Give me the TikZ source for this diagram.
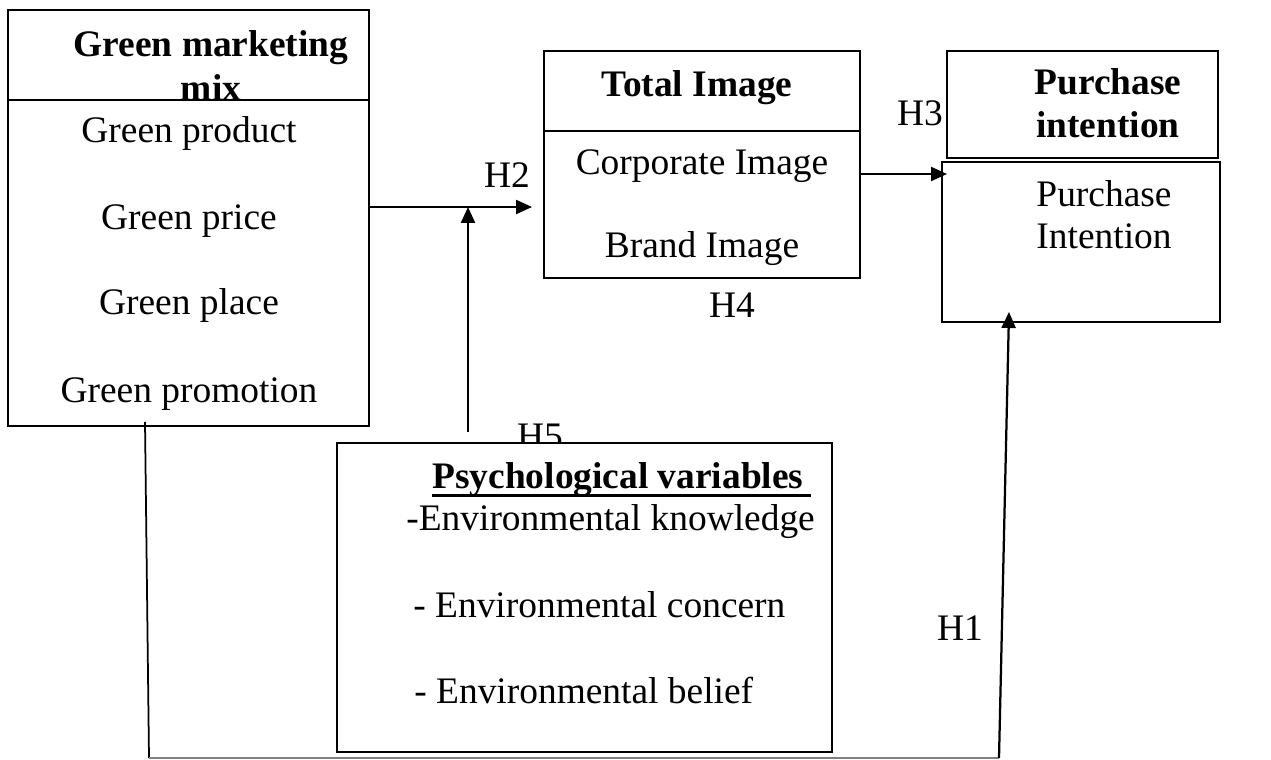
\documentclass[tikz,border=0pt]{standalone}
\usepackage{fontspec}
\setmainfont{Liberation Serif}
\usetikzlibrary{arrows.meta}
\begin{document}
\begin{tikzpicture}[x=0.02cm,y=-0.02cm,>={Triangle[length=0.32cm,width=0.28cm]},
  every node/.style={font=\fontsize{21.3}{25}\selectfont},
  box/.style={draw,line width=0.04cm,fill=white,anchor=north west,inner sep=0pt,outer sep=0pt},
  txt/.style={anchor=base,inner sep=0pt},
  bold/.style={txt,font=\fontsize{21.3}{25}\selectfont\bfseries},
  link/.style={->,line width=0.045cm}]
\useasboundingbox (0,0) rectangle (1271,760);

\node[box,minimum width=7.22cm,minimum height=1.8cm] (gtop) at (8,10) {};
\node[bold] (gtitle) at (211,57) {Green marketing};
\node[bold] (gmix) at (211,101) {mix};
\node[box,minimum width=7.22cm,minimum height=6.52cm] (glow) at (8,100) {};
\node[txt] (gprod) at (189,143) {Green product};
\node[txt] (gprice) at (189,230) {Green price};
\node[txt] (gplace) at (189,315) {Green place};
\node[txt] (gpromo) at (189,402) {Green promotion};

\node[box,minimum width=6.32cm,minimum height=1.6cm] (ttop) at (544,51) {};
\node[bold] (ttitle) at (697,97) {Total Image};
\node[box,minimum width=6.32cm,minimum height=2.94cm] (tlow) at (544,131) {};
\node[txt] (tcorp) at (702,175) {Corporate Image};
\node[txt] (tbrand) at (702,257) {Brand Image};

\node[box,minimum width=5.42cm,minimum height=2.14cm] (ptop) at (947,51) {};
\node[bold] (ptitle) at (1108,95) {Purchase};
\node[bold] (ptitleb) at (1108,138) {intention};
\node[box,minimum width=5.56cm,minimum height=3.2cm] (plow) at (942,162) {};
\node[txt] (ppur) at (1104,207) {Purchase};
\node[txt] (pint) at (1104,249) {Intention};

\node[txt] (lblh5) at (540,448) {H5};
\node[box,minimum width=9.9cm,minimum height=6.18cm] (psy) at (337,443) {};
\node[bold,anchor=base west] (psytitle) at (432,488) {Psychological variables};
\draw[line width=0.06cm] ([yshift=-0.14cm]psytitle.base west) -- ++(379,0);
\node[txt,anchor=base west] (psyknow) at (406,530) {-Environmental knowledge};
\node[txt,anchor=base west] (psyconc) at (413,617) {- Environmental concern};
\node[txt,anchor=base west] (psybel) at (414,703) {- Environmental belief};

\node[txt] (lblh2) at (507,188) {H2};
\node[txt] (lblh3) at (920,126) {H3};
\node[txt] (lblh4) at (732,317) {H4};
\node[txt] (lblh1) at (960,640) {H1};

\coordinate (h2end) at (532,207);
\coordinate (h5foot) at (468,432);
\coordinate (h3y) at (0,174);
\coordinate (h1turn) at (149,758);
\coordinate (h1corner) at (999,758);

\draw[link] (glow.east |- h2end) -- (h2end);
\draw[link] (h5foot) -- (h5foot |- h2end);
\draw[link] (tlow.east |- h3y) -- (ptop.west |- h3y);
\draw[line width=0.035cm] ([shift={(137,-4)}]glow.south west) -- (h1turn);
\draw[gray,line width=0.03cm] (h1turn) -- (h1corner);
\draw[link] (h1corner) -- ([shift={(67,-10)}]plow.south west);
\end{tikzpicture}
\end{document}
